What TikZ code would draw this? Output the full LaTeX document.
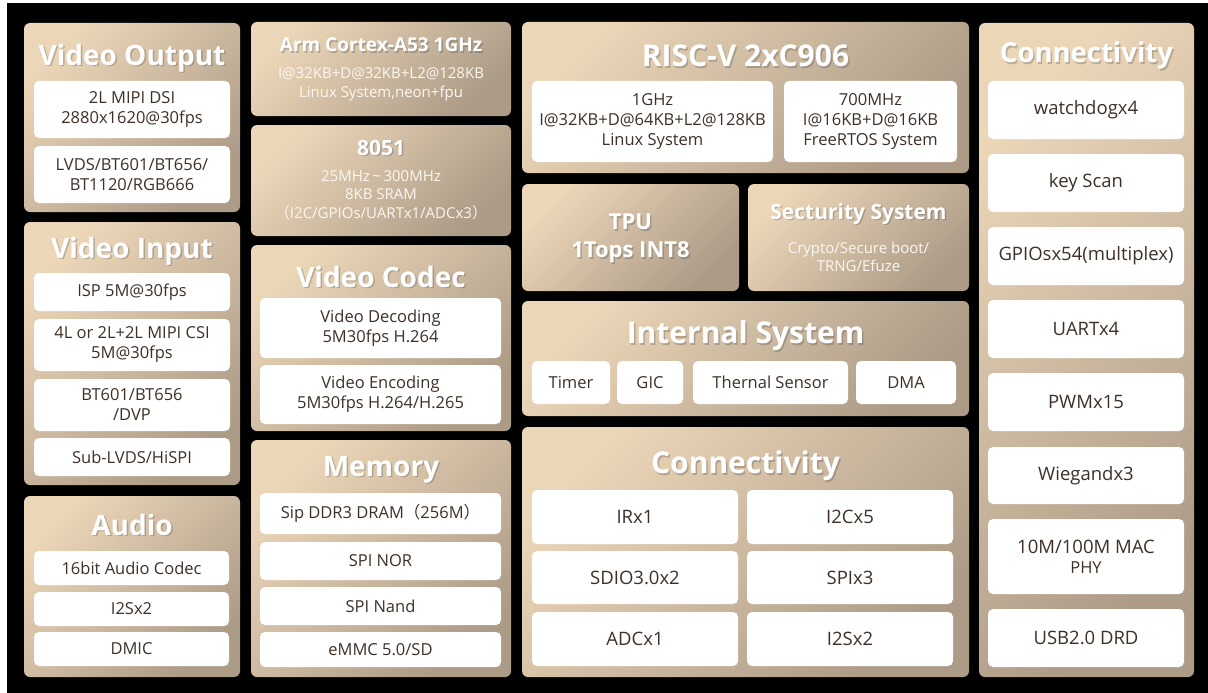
\documentclass[tikz,border=0pt]{standalone}
\usepackage{fontspec}
\setmainfont{Open Sans}
\newfontfamily\cjk{Noto Sans CJK SC}
\usetikzlibrary{positioning}

\definecolor{peach}{RGB}{236,214,184}
\definecolor{taupe}{RGB}{172,155,135}
\definecolor{boxtxt}{RGB}{62,48,40}
\definecolor{subtxt}{RGB}{252,247,240}

\newcommand{\fsz}[2]{\fontsize{#1}{#2}\selectfont}
% panel: name, x1, y1, x2, y2
\newcommand{\pnl}[5]{\node[panel, minimum width={#4-#2}, minimum height={#5-#3}] (#1) at ({(#2+#4)/2},{(#3+#5)/2}) {};}
% white box: name, x1, y1, x2, y2, text
\newcommand{\bx}[6]{\node[wbox, minimum width={#4-#2}, minimum height={#5-#3}] (#1) at ({(#2+#4)/2},{(#3+#5)/2}) {#6};}
% title with shadow: name, panel, offset, size, text
\newcommand{\ttl}[5]{%
  \node[shd, font=\fsz{#4}{#4}\bfseries] at ([xshift=1.5, yshift={-#3-1.5}]#2.north) {#5};
  \node[ttl, font=\fsz{#4}{#4}\bfseries] (#1) at ([yshift=-#3]#2.north) {#5};}

\begin{document}
\begin{tikzpicture}
	[x=1pt, y=-1pt,
	panel/.style={rounded corners=6, top color=peach, bottom color=taupe, shading angle=45, inner sep=0},
	wbox/.style={fill=white, rounded corners=5, inner sep=0, align=center, text=boxtxt, font=\fsz{16.5}{20}},
	ttl/.style={text=white, align=center, inner sep=0},
	shd/.style={text=black!70, text opacity=0.3, align=center, inner sep=0},
	sub/.style={text=subtxt, align=center, inner sep=0, font=\fsz{15}{19}}]
	\useasboundingbox (0,0) rectangle (1208,693);
	\fill[white] (0,0) rectangle (1208,693);
	\fill[black] (7,3) rectangle (1208,693);

	% left column
	\pnl{vout}{24}{23}{240}{212}
	\ttl{voutT}{vout}{35}{28}{Video Output}
	\bx{vout1}{34}{81}{230}{138}{2L MIPI DSI\\2880x1620@30fps}
	\bx{vout2}{34}{146}{230}{203}{LVDS/BT601/BT656/\\BT1120/RGB666}

	\pnl{vin}{24}{222}{240}{485}
	\ttl{vinT}{vin}{29}{28}{Video Input}
	\bx{vin1}{34}{273}{230}{311}{ISP 5M@30fps}
	\bx{vin2}{34}{319}{230}{371}{4L or 2L+2L MIPI CSI\\5M@30fps}
	\bx{vin3}{34}{379}{230}{431}{BT601/BT656\\/DVP}
	\bx{vin4}{34}{438}{230}{476}{Sub-LVDS/HiSPI}

	\pnl{audio}{24}{496}{240}{677}
	\ttl{audioT}{audio}{29}{28}{Audio}
	\bx{aud1}{34}{551}{229}{585}{16bit Audio Codec}
	\bx{aud2}{34}{592}{229}{626}{I2Sx2}
	\bx{aud3}{34}{632}{229}{666}{DMIC}

	% second column
	\pnl{arm}{251}{22}{511}{116}
	\ttl{armT}{arm}{23}{19}{Arm Cortex-A53 1GHz}
	\node[sub] (armS) at (381,84) {I@32KB+D@32KB+L2@128KB\\Linux System,neon+fpu};

	\pnl{mcu}{251}{125}{511}{236}
	\ttl{mcuT}{mcu}{23}{21}{8051}
	\node[sub, font=\fsz{15}{18.5}] (mcuS) at (381,195) {25MHz\,\textasciitilde\,300MHz\\8KB SRAM\\{\cjk （}I2C/GPIOs/UARTx1/ADCx3{\cjk ）}};

	\pnl{codec}{251}{245}{511}{431}
	\ttl{codecT}{codec}{32}{28}{Video Codec}
	\bx{codec1}{260}{298}{501}{358}{Video Decoding\\5M30fps H.264}
	\bx{codec2}{260}{365}{501}{424}{Video Encoding\\5M30fps H.264/H.265}

	\pnl{mem}{251}{440}{511}{677}
	\ttl{memT}{mem}{30}{28}{Memory}
	\bx{mem1}{260}{493}{501}{534}{Sip DDR3 DRAM{\cjk （}256M{\cjk ）}}
	\bx{mem2}{260}{542}{501}{580}{SPI NOR}
	\bx{mem3}{260}{587}{501}{625}{SPI Nand}
	\bx{mem4}{260}{632}{501}{667}{eMMC 5.0/SD}

	% third column
	\pnl{riscv}{522}{22}{969}{173}
	\ttl{riscvT}{riscv}{34}{30}{RISC-V 2xC906}
	\bx{rv1}{532}{81}{773}{162}{\fsz{16.5}{23}1GHz\\I@32KB+D@64KB+L2@128KB\\Linux System}
	\bx{rv2}{784}{81}{957}{162}{\fsz{16.5}{23}700MHz\\I@16KB+D@16KB\\FreeRTOS System}

	\pnl{tpu}{522}{184}{739}{291}
	\node[shd, font=\fsz{22}{28}\bfseries] at (632,240) {TPU\\1Tops INT8};
	\node[ttl, font=\fsz{22}{28}\bfseries] (tpuT) at (630.5,238.5) {TPU\\1Tops INT8};

	\pnl{sec}{748}{184}{969}{291}
	\ttl{secT}{sec}{30}{21}{Secturity System}
	\node[sub, font=\fsz{15}{18}] (secS) at (858.5,257) {Crypto/Secure boot/\\TRNG/Efuze};

	\pnl{intsys}{522}{301}{969}{416}
	\ttl{intsysT}{intsys}{35}{30}{Internal System}
	\bx{is1}{532}{361}{610}{404}{Timer}
	\bx{is2}{617}{361}{683}{404}{GIC}
	\bx{is3}{693}{361}{848}{404}{Thernal Sensor}
	\bx{is4}{856}{361}{956}{404}{DMA}

	\pnl{conn}{522}{427}{969}{677}
	\ttl{connT}{conn}{39}{30}{Connectivity}
	\bx{cn1}{532}{490}{738}{544}{\fsz{18.5}{22}IRx1}
	\bx{cn2}{747}{490}{953}{544}{\fsz{18.5}{22}I2Cx5}
	\bx{cn3}{532}{551}{738}{604}{\fsz{18.5}{22}SDIO3.0x2}
	\bx{cn4}{747}{551}{953}{604}{\fsz{18.5}{22}SPIx3}
	\bx{cn5}{532}{612}{738}{666}{\fsz{18.5}{22}ADCx1}
	\bx{cn6}{747}{612}{953}{666}{\fsz{18.5}{22}I2Sx2}

	% right column
	\pnl{io}{979}{23}{1194}{677}
	\ttl{ioT}{io}{33}{27.5}{Connectivity}
	\bx{io1}{988}{81}{1184}{139}{\fsz{18.5}{22}watchdogx4}
	\bx{io2}{988}{154}{1184}{212}{\fsz{18.5}{22}key Scan}
	\bx{io3}{988}{227}{1184}{285}{\fsz{18.5}{22}GPIOsx54(multiplex)}
	\bx{io4}{988}{300}{1184}{358}{\fsz{18.5}{22}UARTx4}
	\bx{io5}{988}{373}{1184}{431}{\fsz{18.5}{22}PWMx15}
	\bx{io6}{988}{447}{1184}{504}{\fsz{18.5}{22}Wiegandx3}
	\bx{io7}{988}{519}{1184}{594}{\fsz{18.5}{22}10M/100M MAC\\PHY}
	\bx{io8}{988}{609}{1184}{667}{\fsz{18.5}{22}USB2.0 DRD}
\end{tikzpicture}
\end{document}
